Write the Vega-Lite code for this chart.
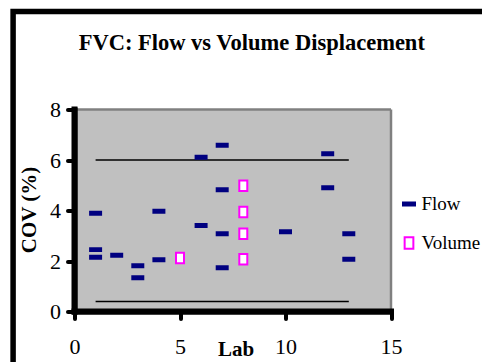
{
  "$schema": "https://vega.github.io/schema/vega-lite/v6.json",
  "autosize": {"type": "none"},
  "width": 316.5,
  "height": 202,
  "padding": {"left": 74.5, "top": 109.5, "right": 91, "bottom": 50.5},
  "background": "#FFFFFF",
  "title": {
    "text": "FVC: Flow vs Volume Displacement",
    "font": "Liberation Serif",
    "fontSize": 22.5,
    "fontWeight": "bold",
    "color": "#000000",
    "anchor": "middle",
    "frame": "group",
    "baseline": "alphabetic",
    "dx": 19,
    "offset": -64
  },
  "datasets": {
    "cov": [
      {"lab": 1, "cov": 3.89, "series": "Flow"},
      {"lab": 1, "cov": 2.45, "series": "Flow"},
      {"lab": 1, "cov": 2.15, "series": "Flow"},
      {"lab": 2, "cov": 2.23, "series": "Flow"},
      {"lab": 3, "cov": 1.81, "series": "Flow"},
      {"lab": 3, "cov": 1.34, "series": "Flow"},
      {"lab": 4, "cov": 3.97, "series": "Flow"},
      {"lab": 4, "cov": 2.05, "series": "Flow"},
      {"lab": 6, "cov": 6.11, "series": "Flow"},
      {"lab": 6, "cov": 3.41, "series": "Flow"},
      {"lab": 7, "cov": 6.58, "series": "Flow"},
      {"lab": 7, "cov": 4.82, "series": "Flow"},
      {"lab": 7, "cov": 3.08, "series": "Flow"},
      {"lab": 7, "cov": 1.73, "series": "Flow"},
      {"lab": 10, "cov": 3.16, "series": "Flow"},
      {"lab": 12, "cov": 6.25, "series": "Flow"},
      {"lab": 12, "cov": 4.9, "series": "Flow"},
      {"lab": 13, "cov": 3.08, "series": "Flow"},
      {"lab": 13, "cov": 2.07, "series": "Flow"},
      {"lab": 5, "cov": 2.12, "series": "Volume"},
      {"lab": 8, "cov": 4.98, "series": "Volume"},
      {"lab": 8, "cov": 3.94, "series": "Volume"},
      {"lab": 8, "cov": 3.08, "series": "Volume"},
      {"lab": 8, "cov": 2.07, "series": "Volume"}
    ],
    "limits": [
      {"from": 1, "to": 13, "cov": 6},
      {"from": 1, "to": 13, "cov": 0.4}
    ],
    "frame": [
      {"left": -2.91, "right": 20, "top": 11.88, "bottom": -4}
    ],
    "one": [{}]
  },
  "config": {
    "view": {"fill": "#C0C0C0", "stroke": null},
    "style": {
      "guide-label": {"font": "Liberation Serif", "fill": "#000000"},
      "guide-title": {"font": "Liberation Serif", "fill": "#000000"}
    }
  },
  "layer": [
    {
      "data": {"name": "one"},
      "mark": {"type": "rule", "color": "#808080", "strokeWidth": 2.5, "clip": false},
      "encoding": {
        "x": {"datum": 0, "type": "quantitative"},
        "x2": {"datum": 15},
        "y": {"datum": 8, "type": "quantitative"}
      }
    },
    {
      "data": {"name": "one"},
      "mark": {"type": "rule", "color": "#808080", "strokeWidth": 2.5, "clip": false},
      "encoding": {
        "x": {"datum": 15, "type": "quantitative"},
        "y": {"datum": 0, "type": "quantitative"},
        "y2": {"datum": 8}
      }
    },
    {
      "data": {"name": "limits"},
      "mark": {"type": "rule", "color": "#000000", "strokeWidth": 1.5},
      "encoding": {
        "x": {"field": "from", "type": "quantitative"},
        "x2": {"field": "to"},
        "y": {"field": "cov", "type": "quantitative"}
      }
    },
    {
      "data": {"name": "cov"},
      "mark": {"type": "point", "filled": true, "opacity": 1, "strokeWidth": 2, "size": 121, "clip": false},
      "encoding": {
        "x": {
          "field": "lab",
          "type": "quantitative",
          "scale": {"domain": [0, 15], "nice": false, "zero": false},
          "axis": {
            "zindex": 2,
            "values": [0, 5, 10, 15],
            "grid": false,
            "domain": true,
            "domainColor": "#000000",
            "domainWidth": 5,
            "domainCap": "square",
            "tickColor": "#000000",
            "tickWidth": 4,
            "tickSize": 7,
            "tickCap": "round",
            "labelFont": "Liberation Serif",
            "labelFontSize": 22,
            "labelColor": "#000000",
            "labelFlush": false,
            "labelPadding": 18,
            "labelBaseline": "top",
            "title": "Lab",
            "titleFont": "Liberation Serif",
            "titleFontSize": 21,
            "titleFontWeight": "bold",
            "titleColor": "#000000",
            "titleX": 161,
            "titleY": 43.5,
            "titleBaseline": "alphabetic",
            "titleAnchor": "middle"
          }
        },
        "y": {
          "field": "cov",
          "type": "quantitative",
          "scale": {"domain": [0, 8], "nice": false},
          "axis": {
            "zindex": 2,
            "values": [0, 2, 4, 6, 8],
            "grid": false,
            "domain": true,
            "domainColor": "#000000",
            "domainWidth": 5,
            "domainCap": "square",
            "tickColor": "#000000",
            "tickWidth": 4,
            "tickSize": 7,
            "tickCap": "round",
            "labelFont": "Liberation Serif",
            "labelFontSize": 22,
            "labelColor": "#000000",
            "labelFlush": false,
            "labelPadding": 7,
            "title": "COV (%)",
            "titleFont": "Liberation Serif",
            "titleFontSize": 21,
            "titleFontWeight": "bold",
            "titleColor": "#000000",
            "titleAngle": 270,
            "titleX": -39,
            "titleY": 100,
            "titleBaseline": "alphabetic",
            "titleAnchor": "middle"
          }
        },
        "shape": {
          "field": "series",
          "type": "nominal",
          "scale": {"domain": ["Flow", "Volume"], "range": ["M-1,-0.27H1V0.27H-1Z", "M-0.727,-0.955H0.727V0.955H-0.727Z"]},
          "legend": {
            "title": null,
            "orient": "none",
            "legendX": 325,
            "legendY": 85,
            "padding": 0,
            "symbolSize": 144,
            "symbolStrokeWidth": 2,
            "labelFont": "Liberation Serif",
            "labelFontSize": 19,
            "labelColor": "#000000",
            "labelOffset": 3,
            "rowPadding": 18
          }
        },
        "fill": {
          "field": "series",
          "type": "nominal",
          "scale": {"domain": ["Flow", "Volume"], "range": ["#000080", "#FFFFFF"]}
        },
        "stroke": {
          "field": "series",
          "type": "nominal",
          "scale": {"domain": ["Flow", "Volume"], "range": ["#000080", "#FF00FF"]}
        }
      }
    },
    {
      "data": {"name": "one"},
      "mark": {"type": "rule", "color": "#000000", "strokeWidth": 6, "strokeCap": "square", "clip": false},
      "encoding": {
        "x": {"datum": 0, "type": "quantitative"},
        "y": {"datum": 0, "type": "quantitative"},
        "y2": {"datum": 8}
      }
    },
    {
      "data": {"name": "one"},
      "mark": {"type": "rule", "color": "#000000", "strokeWidth": 6, "strokeCap": "square", "clip": false},
      "encoding": {
        "x": {"datum": 0, "type": "quantitative"},
        "x2": {"datum": 15},
        "y": {"datum": 0, "type": "quantitative"}
      }
    },
    {
      "data": {"name": "frame"},
      "mark": {"type": "rect", "fill": "transparent", "stroke": "#000000", "strokeWidth": 5.5, "clip": false},
      "encoding": {
        "x": {"field": "left", "type": "quantitative"},
        "x2": {"field": "right"},
        "y": {"field": "top", "type": "quantitative"},
        "y2": {"field": "bottom"}
      }
    }
  ]
}
